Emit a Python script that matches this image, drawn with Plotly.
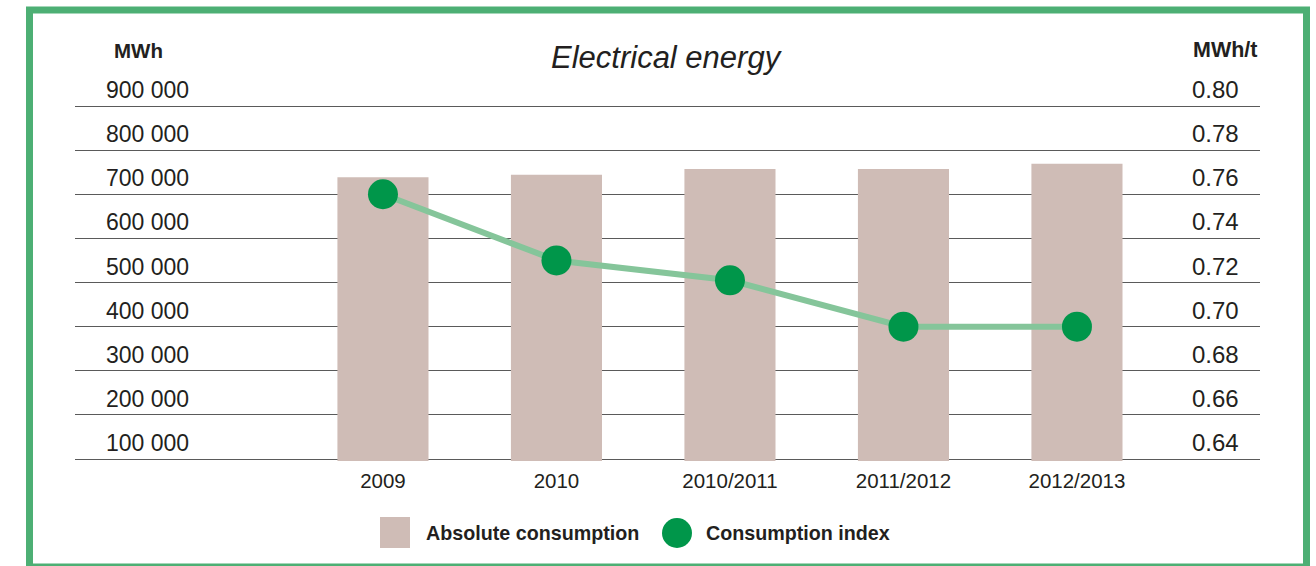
import plotly.graph_objects as go

# Chart data
categories = ["2009", "2010", "2010/2011", "2011/2012", "2012/2013"]
absolute_consumption = [738500, 744000, 757000, 757000, 769000]   # MWh
consumption_index = [0.760, 0.730, 0.721, 0.700, 0.700]          # MWh/t
left_ticks = [100000, 200000, 300000, 400000, 500000, 600000, 700000, 800000, 900000]
right_ticks = [0.64, 0.66, 0.68, 0.70, 0.72, 0.74, 0.76, 0.78, 0.80]

W, H = 1316, 566
PL, PR, PT, PB = 75, 1260, 104, 461  # plot area in pixels

BAR_COLOR = "#cfbcb6"
DOT_COLOR = "#00964a"
LINE_COLOR = "#85c59a"
FRAME_COLOR = "#4daf74"
TEXT = "#231f20"
FONT = "Liberation Sans, Arial, Helvetica, sans-serif"


def px_x(x):
    return (x - PL) / (PR - PL)


def px_y(y):
    return (PB - y) / (PB - PT)


pad_l = 2 * 800000 / 353
pad_r = 2 * 0.16 / 353

fig = go.Figure()
fig.add_trace(go.Bar(
    x=list(range(len(categories))), y=absolute_consumption,
    base=0, marker=dict(color=BAR_COLOR, line=dict(width=0)),
    width=0.525, name="Absolute consumption", showlegend=False,
))
fig.add_trace(go.Scatter(
    x=list(range(len(categories))), y=consumption_index, yaxis="y2",
    mode="lines+markers",
    line=dict(color=LINE_COLOR, width=6),
    marker=dict(color=DOT_COLOR, size=30, line=dict(width=0)),
    name="Consumption index", showlegend=False,
))

fig.update_layout(
    width=W, height=H,
    margin=dict(l=PL, r=W - PR, t=PT, b=H - PB),
    paper_bgcolor="white", plot_bgcolor="white",
    font=dict(family=FONT, color=TEXT, size=20),
    showlegend=False,
    xaxis=dict(
        range=[-1.775, 5.055], tickmode="array",
        tickvals=list(range(len(categories))), ticktext=categories,
        showgrid=False, zeroline=False, showline=False,
        ticks="outside", ticklen=1, tickcolor="rgba(0,0,0,0)",
        tickfont=dict(size=20.5, color=TEXT),
    ),
    yaxis=dict(
        range=[100000 - pad_l, 900000 + pad_l],
        tickmode="array", tickvals=left_ticks, showticklabels=False,
        showgrid=True, gridcolor="#5a5a5a", gridwidth=1.4,
        zeroline=False, showline=False,
    ),
    yaxis2=dict(
        range=[0.64 - pad_r, 0.80 + pad_r], overlaying="y", side="right",
        showgrid=False, showticklabels=False, zeroline=False, showline=False,
    ),
)

annotations = []
for v in left_ticks:
    annotations.append(dict(
        x=px_x(104), xref="paper", xanchor="left",
        y=v, yref="y", yanchor="bottom", yshift=1,
        text=f"{v:,}".replace(",", " "), showarrow=False,
        font=dict(size=23, color=TEXT),
    ))
for v in right_ticks:
    annotations.append(dict(
        x=px_x(1241), xref="paper", xanchor="right",
        y=v, yref="y2", yanchor="bottom", yshift=1,
        text=f"{v:.2f}", showarrow=False,
        font=dict(size=24, color=TEXT),
    ))

# Axis units and title
annotations += [
    dict(x=px_x(138.5), y=px_y(50), xref="paper", yref="paper",
         xanchor="center", yanchor="middle", text="<b>MWh</b>",
         showarrow=False, font=dict(size=20.5, color=TEXT)),
    dict(x=px_x(1225), y=px_y(50), xref="paper", yref="paper",
         xanchor="center", yanchor="middle", text="<b>MWh/t</b>",
         showarrow=False, font=dict(size=21.5, color=TEXT)),
    dict(x=px_x(667), y=px_y(57), xref="paper", yref="paper",
         xanchor="center", yanchor="middle", text="<i>Electrical energy</i>",
         showarrow=False, font=dict(size=31, color=TEXT)),
    dict(x=px_x(424), y=px_y(533), xref="paper", yref="paper",
         xanchor="left", yanchor="middle", text="<b>Absolute consumption</b>",
         showarrow=False, font=dict(size=19.7, color=TEXT)),
    dict(x=px_x(704), y=px_y(533), xref="paper", yref="paper",
         xanchor="left", yanchor="middle", text="<b>Consumption index</b>",
         showarrow=False, font=dict(size=19.7, color=TEXT)),
]

shapes = [
    # outer frame
    dict(type="rect", xref="paper", yref="paper",
         x0=px_x(29.5), x1=px_x(1306.5), y0=px_y(567), y1=px_y(10),
         line=dict(color=FRAME_COLOR, width=7), fillcolor="rgba(0,0,0,0)",
         layer="above"),
    # legend swatches
    dict(type="rect", xref="paper", yref="paper",
         x0=px_x(380), x1=px_x(410), y0=px_y(548), y1=px_y(517),
         line=dict(width=0), fillcolor=BAR_COLOR),
    dict(type="circle", xref="paper", yref="paper",
         x0=px_x(662), x1=px_x(692), y0=px_y(548), y1=px_y(518),
         line=dict(width=0), fillcolor=DOT_COLOR),
]

fig.update_layout(annotations=annotations, shapes=shapes)
fig.write_html("out.html")
